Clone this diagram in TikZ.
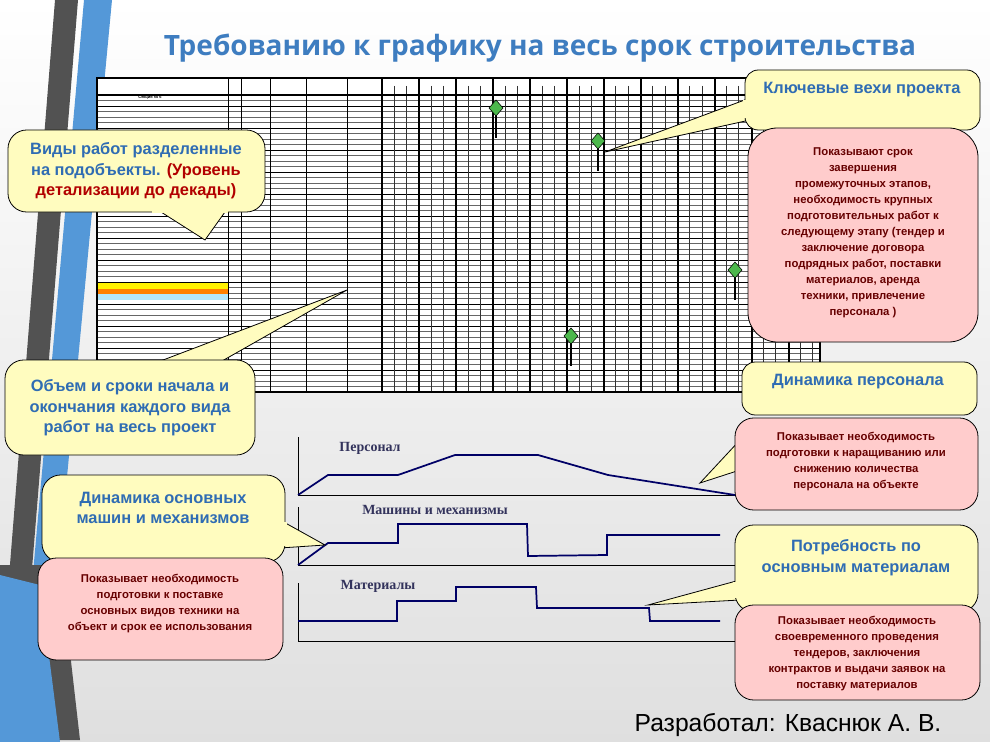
\documentclass[tikz,border=0pt]{standalone}
\usepackage{fontspec}
\setmainfont{Liberation Sans}
\newfontfamily\titlefont{Open Sans}
\newfontfamily\serifb{Liberation Serif}
\definecolor{tblue}{HTML}{3E7DC0}
\definecolor{cblue}{HTML}{2F6CB3}
\begin{document}
\begin{tikzpicture}[x=0.75pt,y=-0.75pt,
  yel/.style={fill=yellow!25!white,draw=black,line width=0.6pt},
  pnk/.style={fill=red!20!white,draw=black,line width=0.6pt},
  ytxt/.style={text=cblue,font=\bfseries\fontsize{12.3}{15.5}\selectfont,align=center},
  ptxt/.style={text=red!40!black,font=\bfseries\fontsize{8.5}{12}\selectfont,align=center},
  curve/.style={draw=blue!40!black,line width=1.3pt},
  axis/.style={draw=black,line width=0.6pt},
  clab/.style={font=\serifb\bfseries\fontsize{10.5}{12}\selectfont,text=blue!20!black!80},
  mile/.style={fill=green!60!black!70!white,draw=black,line width=0.4pt}]
\useasboundingbox (0,0) rectangle (990,742);
\shade[top color=white,bottom color=gray!25] (0,0) rectangle (990,742);
% stripes
\fill[gray!30!black!80] (55,0)--(78,0)--(18,742)--(0,742)--(0,690)--cycle;
\fill[cyan!60!blue!70] (84,0)--(112,0)--(42,742)--(18,742)--cycle;
\fill[gray!30!black!80] (0,565)--(60,565)--(80,740)--(0,740)--cycle;
\fill[cyan!60!blue!70] (0,575)--(40,585)--(60,742)--(0,742)--cycle;
% title
\node (title) at (540,48) {\titlefont\bfseries\fontsize{21}{24}\selectfont\color{tblue}Требованию к графику на весь срок строительства};
% table
\fill[white] (97,78) rectangle (820,392);
\foreach \y in {95,100.5,...,392} \draw[black!60,line width=0.25pt] (97,\y)--(820,\y);
\foreach \y in {106,128,150,172,194,216,238,260,282,304,326,348,370} \draw[black,line width=0.6pt] (97,\y)--(820,\y);
\fill[yellow] (97,283) rectangle (228,288.5);
\fill[orange] (97,288.5) rectangle (228,294);
\fill[cyan!30] (97,294) rectangle (228,299.5);
\foreach \x in {97,228,241,270,306,347,382} \draw[black,line width=0.7pt] (\x,78)--(\x,392);
\foreach \x in {382,394.3,...,820} \draw[black!80,line width=0.4pt] (\x,86)--(\x,392);
\foreach \x in {382,419,...,820} \draw[black,line width=0.8pt] (\x,78)--(\x,392);
\draw[black,line width=0.8pt] (97,78) rectangle (820,392);
\draw[black,line width=0.8pt] (97,95)--(820,95);
\node[font=\fontsize{3}{3}\selectfont] (secn) at (150,98) {\bfseries Секция № 6};
% milestones
\foreach \mx/\my [count=\i] in {496/108,598/141,735/270,571/336}{
  \draw[black,line width=2pt] (\mx,\my)--(\mx,\my+30);
  \fill[mile] (\mx,\my-8)--(\mx+7,\my)--(\mx,\my+8)--(\mx-7,\my)--cycle;
}
% charts
\draw[axis] (298,437)--(298,495)--(735,495);
\draw[curve] (298,495)--(328,475)--(398,475)--(455,455)--(538,455)--(608,475)--(735,495);
\node[clab] (l1) at (370,448) {Персонал};
\draw[axis] (298,507)--(298,565)--(735,565);
\draw[curve] (298,565)--(328,543)--(398,543)--(398,524)--(527,524)--(528,556)--(607,555)--(607,535)--(720,535);
\node[clab] (l2) at (435,510) {Машины и механизмы};
\draw[axis] (298,583)--(298,641)--(745,641);
\draw[curve] (298,621)--(397,621)--(397,601)--(456,601)--(456,587)--(536,587)--(537,608)--(649,608)--(650,621)--(720,621);
\node[clab] (l3) at (378,586) {Материалы};
% callouts
\coordinate (p1) at (205,240);
\draw[yel] (150,205)--(p1)--(230,205)--cycle;
\draw[yel,rounded corners=14pt] (8,130) rectangle (265,212);
\fill[yellow!25!white] (152,209) rectangle (228,213);
\node[ytxt] (c1) at (136,171) {Виды работ разделенные\\на подобъекты. \textcolor{red!70!black}{(Уровень}\\\textcolor{red!70!black}{детализации до декады)}};
\coordinate (p2) at (347,290);
\draw[yel] (150,365)--(p2)--(215,365)--cycle;
\draw[yel,rounded corners=14pt] (5,360) rectangle (255,455);
\fill[yellow!25!white] (152,362) rectangle (213,368);
\node[ytxt] (c2) at (130,408) {Объем и сроки начала и\\окончания каждого вида\\работ на весь проект};
\coordinate (p3) at (605,152);
\draw[yel] (750,98)--(p3)--(750,120)--cycle;
\draw[yel,rounded corners=10pt] (745,70) rectangle (980,130);
\fill[yellow!25!white] (743,100) rectangle (748,118);
\node[ytxt] (c3) at (862,90) {Ключевые вехи проекта};
\draw[pnk,rounded corners=22pt] (748,128) rectangle (978,342);
\node[ptxt] (d3) at (863,233) {Показывают срок\\завершения\\промежуточных этапов,\\необходимость крупных\\подготовительных работ к\\следующему этапу (тендер и\\заключение договора\\подрядных работ, поставки\\материалов,  аренда\\техники, привлечение\\персонала )};
\draw[yel,rounded corners=10pt] (742,362) rectangle (977,415);
\node[ytxt] (c4) at (858,382) {Динамика персонала};
\coordinate (p4) at (700,483);
\draw[yel] (740,440)--(p4)--(740,470)--cycle;
\draw[pnk,rounded corners=14pt] (735,418) rectangle (978,510);
\node[ptxt] (d4) at (856,462) {Показывает необходимость\\подготовки к наращиванию или\\снижению количества\\персонала на объекте};
\coordinate (p5) at (325,545);
\draw[yel] (280,520)--(p5)--(280,548)--cycle;
\draw[yel,rounded corners=14pt] (42,475) rectangle (285,562);
\fill[yellow!25!white] (282,522) rectangle (287,546);
\node[ytxt] (c5) at (163,508) {Динамика основных\\машин и механизмов};
\draw[pnk,rounded corners=14pt] (38,558) rectangle (283,660);
\node[ptxt] (d5) at (160,604) {Показывает необходимость\\подготовки к поставке\\основных  видов техники на\\объект и срок ее использования};
\coordinate (p6) at (648,605);
\draw[yel] (740,580)--(p6)--(740,600)--cycle;
\draw[yel,rounded corners=14pt] (735,525) rectangle (978,612);
\fill[yellow!25!white] (733,582) rectangle (738,598);
\node[ytxt] (c6) at (856,558) {Потребность по\\основным материалам};
\draw[pnk,rounded corners=14pt] (735,605) rectangle (980,700);
\node[ptxt] (d6) at (857,654) {Показывает необходимость\\своевременного проведения\\тендеров, заключения\\контрактов  и выдачи заявок на\\поставку материалов};
\node (author) at (788,725) {\fontsize{18.5}{20}\selectfont Разработал: Кваснюк А. В.};
\end{tikzpicture}
\end{document}
